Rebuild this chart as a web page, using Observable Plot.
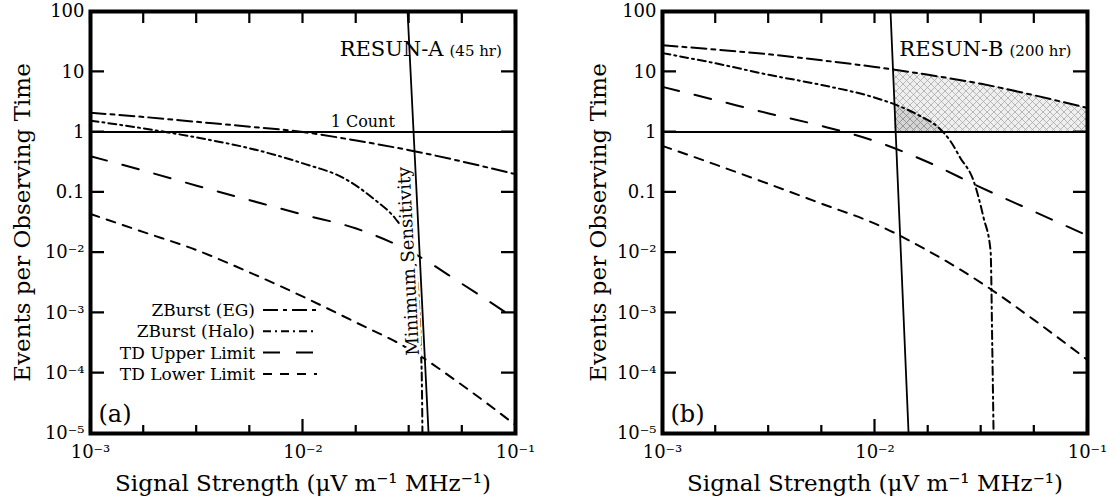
<!DOCTYPE html>
<html><head><meta charset="utf-8">
<script src="https://cdn.jsdelivr.net/npm/d3@7"></script>
<script src="https://cdn.jsdelivr.net/npm/@observablehq/plot@0.6"></script>
<style>
body{margin:0;background:#fff;}
#wrap{display:flex;width:1119px;height:501px;overflow:hidden;}
</style></head><body><div id="wrap"></div>
<script>
// ---------- data ----------
const xGrid = [0.001, 0.00178, 0.00316, 0.00562, 0.01, 0.0178, 0.0316, 0.0562, 0.1];

// Panel (a) RESUN-A (45 hr)
const aEG    = [2.09, 1.78, 1.48, 1.23, 1.0, 0.724, 0.501, 0.324, 0.200];
const aHaloX = [0.001, 0.00178, 0.00316, 0.00562, 0.01, 0.01585, 0.02138, 0.02786, 0.03162, 0.03388, 0.03508, 0.03589, 0.03631, 0.03648];
const aHaloY = [1.549, 1.148, 0.813, 0.537, 0.302, 0.166, 0.0794, 0.0331, 0.0166, 0.00631, 0.00158, 0.000251, 0.0000501, 0.00001];
const aUpper = [0.398, 0.229, 0.129, 0.0741, 0.0427, 0.0251, 0.0107, 0.00302, 0.000794];
const aLower = [0.0437, 0.0219, 0.0110, 0.00468, 0.00186, 0.000692, 0.000251, 0.0000631, 0.0000138];
const aMinX  = [0.03105, 0.03899];

// Panel (b) RESUN-B (200 hr)
const bEG    = [27.5, 23.4, 19.5, 15.5, 12.0, 8.91, 6.31, 4.07, 2.51];
const bHaloX = [0.001, 0.00178, 0.00316, 0.00562, 0.01, 0.01259, 0.01585, 0.01995, 0.02265, 0.02512, 0.02911, 0.03243, 0.03499, 0.03565, 0.03614];
const bHaloY = [20.4, 13.8, 8.91, 6.03, 3.72, 2.82, 1.95, 1.175, 0.708, 0.380, 0.155, 0.0380, 0.0107, 0.000251, 0.00001];
const bUpper = [5.62, 3.39, 2.04, 1.26, 0.708, 0.316, 0.120, 0.0479, 0.0191];
const bLower = [0.589, 0.288, 0.138, 0.0646, 0.0302, 0.0107, 0.00316, 0.000759, 0.000166];
const bMinX  = [0.01183, 0.01439];
// shaded detection regions in (b)
const bLightX   = [0.0124, 0.0178, 0.0316, 0.0562, 0.1];
const bLightTop = [10.8, 8.91, 6.31, 4.07, 2.51];
const bDarkX    = [0.0124, 0.0141, 0.0158, 0.0178, 0.0200, 0.0209];
const bDarkTop  = [2.88, 2.29, 1.95, 1.55, 1.17, 1.0];

const minSensY = [100, 0.00001];
const countLevel = 1;

// ticks
const xMajor = [0.001, 0.01, 0.1];
const xMajorLabels = ["10⁻³", "10⁻²", "10⁻¹"];
const xMinor = [0.001, 0.00178, 0.00316, 0.00562, 0.01, 0.0178, 0.0316, 0.0562, 0.1];
const yTicks = [100, 10, 1, 0.1, 0.01, 0.001, 0.0001, 0.00001];
const yLabels = ["100", "10", "1", "0.1", "10⁻²", "10⁻³", "10⁻⁴", "10⁻⁵"];

const seriesNames = ["ZBurst (EG)", "ZBurst (Halo)", "TD Upper Limit", "TD Lower Limit"];
const dashes = ["15,5,4,5", "8,4,2,4", "17,16", "9,8"];

const FONT = "DejaVu Serif";

function pts(xa, ya) { return xa.map((x, i) => ({x, y: ya[i]})); }

function legendMark(index, scales, values, dims) {
  const g = d3.create("svg:g").attr("font-family", FONT).attr("font-size", 17);
  const x0 = dims.marginLeft, yb = dims.height - dims.marginBottom;
  seriesNames.forEach((name, i) => {
    const y = yb - 123 + i * 21.3;
    g.append("text").attr("x", x0 + 165).attr("y", y).attr("dy", "0.35em")
      .attr("text-anchor", "end").attr("fill", "black").text(name);
    g.append("line").attr("x1", x0 + 173).attr("x2", x0 + 227).attr("y1", y).attr("y2", y)
      .attr("stroke", "black").attr("stroke-width", 2).attr("stroke-dasharray", dashes[i]);
  });
  return g.node();
}

// inward ticks on all four sides, placed with the plot's own x/y scales
function tickMarks(index, scales, values, dims) {
  const g = d3.create("svg:g");
  const L = dims.marginLeft, R = dims.width - dims.marginRight;
  const T = dims.marginTop, B = dims.height - dims.marginBottom;
  const path = [];
  for (const v of yTicks) { const y = scales.y(v); path.push(`M${L},${y}h14`, `M${R},${y}h-14`); }
  for (const v of xMinor) { const x = scales.x(v); path.push(`M${x},${T}v12`, `M${x},${B}v-8`); }
  for (const v of xMajor) { const x = scales.x(v); path.push(`M${x},${B}v-14`); }
  g.append("path").attr("d", path.join("")).attr("fill", "none").attr("stroke", "black").attr("stroke-width", 2.2);
  return g.node();
}

function panel(o) {
  const series = [
    pts(xGrid, o.eg), pts(o.haloX, o.haloY), pts(xGrid, o.upper), pts(xGrid, o.lower)
  ];
  const marks = [];
  if (o.light) {
    marks.push(Plot.areaY(o.light, {x: "x", y1: "base", y2: "top", curve: "monotone-x", fill: "url(#hatchLight)"}));
    marks.push(Plot.areaY(o.dark, {x: "x", y1: "base", y2: "top", curve: "monotone-x", fill: "url(#hatchDark)"}));
  }
  marks.push(Plot.ruleY([countLevel], {stroke: "black", strokeWidth: 2}));
  series.forEach((s, i) => marks.push(Plot.line(s, {x: "x", y: "y", curve: "monotone-x", stroke: "black",
    strokeWidth: 2, strokeDasharray: dashes[i], clip: true})));
  if (o.minLabel) {
    marks.push(Plot.text([o.minLabel], {x: "x", y: "y", text: "t", rotate: -92.85, fontSize: 18,
      textAnchor: "middle", lineAnchor: "middle", fill: "black", stroke: "white", strokeWidth: 6}));
  }
  marks.push(Plot.line(pts(o.minX, minSensY), {x: "x", y: "y", stroke: "black", strokeWidth: 1.8, clip: true}));
  marks.push(Plot.frame({stroke: "black", strokeWidth: 4}));
  marks.push(tickMarks);
  // tick labels
  marks.push(Plot.axisY(yTicks, {anchor: "left", tickSize: 0, tickPadding: 6, fontSize: 18,
    tickFormat: d => yLabels[yTicks.indexOf(d)], label: null}));
  marks.push(Plot.axisX(xMajor, {anchor: "bottom", tickSize: 0, tickPadding: 12, fontSize: 18,
    tickFormat: d => xMajorLabels[xMajor.indexOf(d)], label: null}));
  // axis titles
  marks.push(Plot.text(["Signal Strength (μV m⁻¹ MHz⁻¹)"], {frameAnchor: "bottom", dy: 57, textAnchor: "middle", lineAnchor: "bottom", fontSize: 23, fill: "black"}));
  marks.push(Plot.text(["Events per Observing Time"], {frameAnchor: "left", dx: o.yTitleDx, rotate: -90, textAnchor: "middle", lineAnchor: "middle", fontSize: 23, fill: "black"}));
  // annotations
  marks.push(Plot.text([o.resun], {frameAnchor: "top-right", dx: o.resunDx, dy: 44, textAnchor: "end", lineAnchor: "bottom", fontSize: 21, fill: "black"}));
  marks.push(Plot.text([o.hours], {frameAnchor: "top-right", dx: o.resunDx + 6, dy: 44, textAnchor: "start", lineAnchor: "bottom", fontSize: 15, fill: "black"}));
  marks.push(Plot.text([o.tag], {frameAnchor: "bottom-left", dx: 8, dy: -12, textAnchor: "start", lineAnchor: "bottom", fontSize: 24, fill: "black"}));
  if (o.countLabel) {
    marks.push(Plot.text([o.countLabel], {x: "x", y: "y", text: "t", dy: -5, lineAnchor: "bottom", fontSize: 16, fill: "black"}));
  }
  if (o.legend) marks.push(legendMark);

  const svg = Plot.plot({
    width: o.width, height: 501,
    marginLeft: o.ml, marginRight: o.mr, marginTop: 11, marginBottom: 68,
    x: {type: "log", domain: [0.001, 0.1]},
    y: {type: "log", domain: [0.00001, 100]},
    style: {fontFamily: FONT, fontSize: "17px", background: "white", color: "black", overflow: "visible"},
    marks
  });
  if (o.light) {
    const ns = "http://www.w3.org/2000/svg";
    const defs = document.createElementNS(ns, "defs");
    defs.innerHTML =
      '<pattern id="hatchLight" patternUnits="userSpaceOnUse" width="7" height="7">' +
      '<rect width="7" height="7" fill="#efefef"/><path d="M0,0L7,7M7,0L0,7" stroke="#a8a8a8" stroke-width="0.8"/></pattern>' +
      '<pattern id="hatchDark" patternUnits="userSpaceOnUse" width="7" height="7">' +
      '<rect width="7" height="7" fill="#d4d4d4"/><path d="M0,0L7,7M7,0L0,7" stroke="#888" stroke-width="0.8"/></pattern>';
    svg.insertBefore(defs, svg.firstChild);
  }
  return svg;
}

const wrap = document.getElementById("wrap");
wrap.appendChild(panel({
  width: 560, ml: 90, mr: 45,
  eg: aEG, haloX: aHaloX, haloY: aHaloY, upper: aUpper, lower: aLower, minX: aMinX,
  minLabel: {x: 0.03137, y: 0.00724, t: "Minimum Sensitivity"},
  countLabel: {x: 0.0191, y: countLevel, t: "1 Count"},
  resun: "RESUN-A", hours: "(45 hr)", resunDx: -72, tag: "(a)", yTitleDx: -68, legend: true
}));
wrap.appendChild(panel({
  width: 559, ml: 102, mr: 32,
  eg: bEG, haloX: bHaloX, haloY: bHaloY, upper: bUpper, lower: bLower, minX: bMinX,
  light: bLightX.map((x, i) => ({x, top: bLightTop[i], base: countLevel})),
  dark: bDarkX.map((x, i) => ({x, top: bDarkTop[i], base: countLevel})),
  resun: "RESUN-B", hours: "(200 hr)", resunDx: -84, tag: "(b)", yTitleDx: -64, legend: false
}));
</script></body></html>
